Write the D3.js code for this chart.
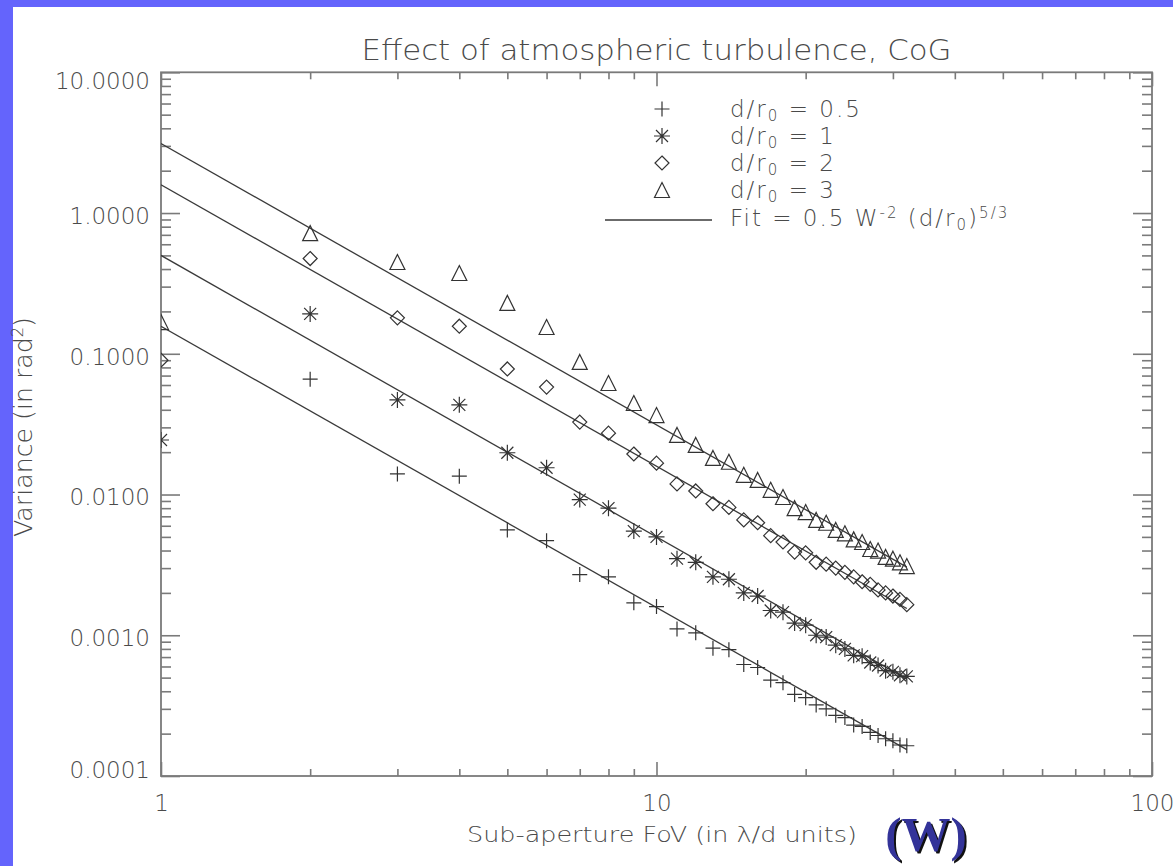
<!DOCTYPE html>
<html>
<head>
<meta charset="utf-8">
<script src="https://cdn.jsdelivr.net/npm/d3@7"></script>
<style>
  body { margin: 0; background: #fff; }
  svg text.idl { font-family: "DejaVu Sans ExtraLight", "DejaVu Sans", sans-serif; font-weight: 200; fill: #4a4a4a; }
</style>
</head>
<body>
<svg id="chart" width="1173" height="866"></svg>
<script>
// sub-aperture FoV (W, in lambda/d units)
const fovW = [1, 2, 3, 4, 5, 6, 7, 8, 9, 10, 11, 12, 13, 14, 15, 16,
  17, 18, 19, 20, 21, 22, 23, 24, 25, 26, 27, 28, 29, 30, 31, 32];

// variance (rad^2), one list per d/r0
const varHalf = [null, 0.066, 0.0140, 0.0135, 0.0056, 0.0047, 0.0027, 0.0026, 0.0017, 0.0016,
  0.00111, 0.00104, 0.00081, 0.00079, 0.00062, 0.00059, 0.00048, 0.00046, 0.00038, 0.00036,
  0.00032, 0.00030, 0.00027, 0.00026, 0.00023, 0.000225, 0.000204, 0.000194, 0.000184, 0.000178,
  0.000166, 0.000164];
const varOne = [0.0244, 0.192, 0.047, 0.0434, 0.0198, 0.0155, 0.0092, 0.0080, 0.0055, 0.0050,
  0.0035, 0.0033, 0.0026, 0.0025, 0.0020, 0.0019, 0.0015, 0.00146, 0.00122, 0.00118,
  0.0010, 0.00097, 0.00085, 0.00080, 0.00072, 0.00071, 0.00064, 0.00061, 0.00056, 0.00055,
  0.00052, 0.00051];
const varTwo = [0.090, 0.475, 0.18, 0.157, 0.078, 0.058, 0.0327, 0.0273, 0.0194, 0.0167,
  0.0119, 0.0106, 0.0086, 0.0081, 0.0066, 0.0063, 0.0051, 0.0046, 0.0039, 0.00385,
  0.0033, 0.0032, 0.0030, 0.0028, 0.0026, 0.0024, 0.0023, 0.0021, 0.0020, 0.0019,
  0.0018, 0.00165];
const varThree = [0.168, 0.72, 0.449, 0.375, 0.23, 0.155, 0.0875, 0.062, 0.0447, 0.0367,
  0.0265, 0.0225, 0.0182, 0.0171, 0.0138, 0.0127, 0.0108, 0.0096, 0.0080, 0.0075,
  0.0066, 0.0063, 0.0056, 0.0053, 0.0048, 0.0046, 0.0041, 0.0040, 0.0036, 0.0035,
  0.0033, 0.0031];

// fit lines (0.5 W^-2 (d/r0)^5/3), end values at W = 1 and W = 32
const fitW = [1, 32];
const fitAtStart = [0.157, 0.5, 1.59, 3.12];
const fitAtEnd = [0.000154, 0.000488, 0.00155, 0.00305];

const ratioLabels = ["0.5", "1", "2", "3"];
const symbolNames = ["plus", "star", "diamond", "triangle"];

const xMajor = [1, 10, 100];
const xTickLabels = ["1", "10", "100"];
const xMinor = [2, 3, 4, 5, 6, 7, 8, 9, 20, 30, 40, 50, 60, 70, 80, 90];
const yMajor = [0.0001, 0.001, 0.01, 0.1, 1, 10];
const yTickLabels = ["0.0001", "0.0010", "0.0100", "0.1000", "1.0000", "10.0000"];
const yMinor = [];
[0.0001, 0.001, 0.01, 0.1, 1].forEach(dec => [2, 3, 4, 5, 6, 7, 8, 9].forEach(m => yMinor.push(dec * m)));

const svg = d3.select("#chart");
const width = +svg.attr("width");
const height = +svg.attr("height");

// blue slide frame
svg.append("rect").attr("x", 0).attr("y", 0).attr("width", width).attr("height", height).attr("fill", "#fff");
svg.append("rect").attr("x", 0).attr("y", 0).attr("width", width).attr("height", 7).attr("fill", "#6464fc");
svg.append("rect").attr("x", 0).attr("y", 0).attr("width", 13).attr("height", height).attr("fill", "#6464fc");

const plot = { left: 161, right: 1152, top: 72.3, bottom: 776 };
const midX = (plot.left + plot.right) / 2;

const x = d3.scaleLog().domain([1, 100]).range([plot.left, plot.right]);
const y = d3.scaleLog().domain([0.0001, 10]).range([plot.bottom, plot.top]);

const axisColor = "#7a7a7a";

function styleAxis(g) {
  g.select(".domain").remove();
  g.selectAll(".tick line").attr("stroke", axisColor).attr("stroke-width", 1.6);
  g.selectAll(".tick text").attr("class", "idl").attr("font-size", 23);
}

// bottom axis
svg.append("g").attr("transform", `translate(0,${plot.bottom})`)
  .call(d3.axisBottom(x).tickValues(xMajor).tickSize(-14).tickPadding(19)
    .tickFormat((d, i) => xTickLabels[i]))
  .call(styleAxis);
svg.append("g").attr("transform", `translate(0,${plot.bottom})`)
  .call(d3.axisBottom(x).tickValues(xMinor).tickSize(-7).tickFormat(""))
  .call(styleAxis);

// top axis
svg.append("g").attr("transform", `translate(0,${plot.top})`)
  .call(d3.axisTop(x).tickValues(xMajor).tickSize(-14).tickFormat(""))
  .call(styleAxis);
svg.append("g").attr("transform", `translate(0,${plot.top})`)
  .call(d3.axisTop(x).tickValues(xMinor).tickSize(-7).tickFormat(""))
  .call(styleAxis);

// left axis
const leftAxis = svg.append("g").attr("transform", `translate(${plot.left},0)`)
  .call(d3.axisLeft(y).tickValues(yMajor).tickSize(-19).tickPadding(11)
    .tickFormat((d, i) => yTickLabels[i]))
  .call(styleAxis);
// IDL keeps the end labels inside the axis range
leftAxis.selectAll(".tick text")
  .attr("dy", (d, i) => i === 0 ? "0.05em" : i === yMajor.length - 1 ? "0.72em" : "0.45em");
svg.append("g").attr("transform", `translate(${plot.left},0)`)
  .call(d3.axisLeft(y).tickValues(yMinor).tickSize(-10).tickFormat(""))
  .call(styleAxis);

// right axis
svg.append("g").attr("transform", `translate(${plot.right},0)`)
  .call(d3.axisRight(y).tickValues(yMajor).tickSize(-19).tickFormat(""))
  .call(styleAxis);
svg.append("g").attr("transform", `translate(${plot.right},0)`)
  .call(d3.axisRight(y).tickValues(yMinor).tickSize(-10).tickFormat(""))
  .call(styleAxis);

// frame
svg.append("rect")
  .attr("x", plot.left).attr("y", plot.top)
  .attr("width", plot.right - plot.left).attr("height", plot.bottom - plot.top)
  .attr("fill", "none").attr("stroke", axisColor).attr("stroke-width", 1.8);

svg.append("clipPath").attr("id", "plot-clip")
  .append("rect")
  .attr("x", plot.left).attr("y", plot.top)
  .attr("width", plot.right - plot.left).attr("height", plot.bottom - plot.top);

const inner = svg.append("g").attr("clip-path", "url(#plot-clip)");

// fit lines
const fitLines = fitAtStart.map((v, i) => [[fitW[0], v], [fitW[1], fitAtEnd[i]]]);
const line = d3.line().x(d => x(d[0])).y(d => y(d[1]));

inner.selectAll(".fit")
  .data(fitLines)
  .enter()
  .append("path")
  .attr("class", "fit")
  .attr("d", line)
  .attr("fill", "none")
  .attr("stroke", "#3a3a3a")
  .attr("stroke-width", 1.3);

// IDL-style plot symbols
function symbolPath(name) {
  if (name === "plus") return "M-7.5,0H7.5M0,-7.5V7.5";
  if (name === "star") return "M-8,0H8M0,-8V8M-6,-6L6,6M-6,6L6,-6";
  if (name === "diamond") return "M0,-7L7,0L0,7L-7,0Z";
  return "M0,-7.5L7.5,7.5L-7.5,7.5Z";
}

const seriesList = [varHalf, varOne, varTwo, varThree];

seriesList.forEach((values, si) => {
  const pts = fovW.map((w, i) => ({ w: w, v: values[i] })).filter(d => d.v != null);
  inner.selectAll(".pt-" + si)
    .data(pts)
    .enter()
    .append("path")
    .attr("class", "pt-" + si)
    .attr("transform", d => `translate(${x(d.w)},${y(d.v)})`)
    .attr("d", symbolPath(symbolNames[si]))
    .attr("fill", "none")
    .attr("stroke", "#333")
    .attr("stroke-width", 1.2);
});

// legend
const legend = svg.append("g");
const legendRows = [117, 144, 171, 198];

ratioLabels.forEach((lab, i) => {
  legend.append("path")
    .attr("transform", `translate(662,${legendRows[i] - 8})`)
    .attr("d", symbolPath(symbolNames[i]))
    .attr("fill", "none")
    .attr("stroke", "#333")
    .attr("stroke-width", 1.2);

  const t = legend.append("text")
    .attr("class", "idl")
    .attr("x", 730).attr("y", legendRows[i])
    .attr("font-size", 23)
    .attr("letter-spacing", 2)
    .attr("xml:space", "preserve");
  t.append("tspan").text("d/r");
  t.append("tspan").attr("dy", 4).attr("font-size", 15).text("0");
  t.append("tspan").attr("dy", -4).text(" = " + lab);
});

legend.append("line")
  .attr("x1", 605).attr("x2", 712)
  .attr("y1", 220).attr("y2", 220)
  .attr("stroke", "#3a3a3a").attr("stroke-width", 1.3);

const fitText = legend.append("text")
  .attr("class", "idl")
  .attr("x", 730).attr("y", 226)
  .attr("font-size", 23)
  .attr("letter-spacing", 2)
  .attr("xml:space", "preserve");
fitText.append("tspan").text("Fit = 0.5 W");
fitText.append("tspan").attr("dy", -8).attr("font-size", 15).text("-2");
fitText.append("tspan").attr("dy", 8).text(" (d/r");
fitText.append("tspan").attr("dy", 4).attr("font-size", 15).text("0");
fitText.append("tspan").attr("dy", -4).text(")");
fitText.append("tspan").attr("dy", -8).attr("font-size", 15).text("5/3");

// title and axis titles
svg.append("text")
  .attr("class", "idl")
  .attr("x", midX).attr("y", 60)
  .attr("text-anchor", "middle")
  .attr("font-size", 28)
  .attr("textLength", 590)
  .attr("lengthAdjust", "spacingAndGlyphs")
  .text("Effect of atmospheric turbulence, CoG");

svg.append("text")
  .attr("class", "idl")
  .attr("x", 662).attr("y", 842)
  .attr("text-anchor", "middle")
  .attr("font-size", 21)
  .attr("textLength", 390)
  .attr("lengthAdjust", "spacingAndGlyphs")
  .text("Sub-aperture FoV (in λ/d units)");

const yTitle = svg.append("text")
  .attr("class", "idl")
  .attr("transform", "translate(32,427) rotate(-90)")
  .attr("text-anchor", "middle")
  .attr("font-size", 25)
  .attr("textLength", 220)
  .attr("lengthAdjust", "spacingAndGlyphs");
yTitle.append("tspan").text("Variance (in rad");
yTitle.append("tspan").attr("dy", -9).attr("font-size", 16).text("2");
yTitle.append("tspan").attr("dy", 9).text(")");

// (W) slide annotation
[["#111", 2], ["#333399", 0]].forEach(([col, off]) => {
  svg.append("text")
    .attr("x", 926 + off).attr("y", 851 + off)
    .attr("text-anchor", "middle")
    .style("font-family", "'Liberation Serif', 'Times New Roman', serif")
    .style("font-weight", "bold")
    .style("font-size", "49px")
    .style("fill", col)
    .text("(W)");
});
</script>
</body>
</html>
